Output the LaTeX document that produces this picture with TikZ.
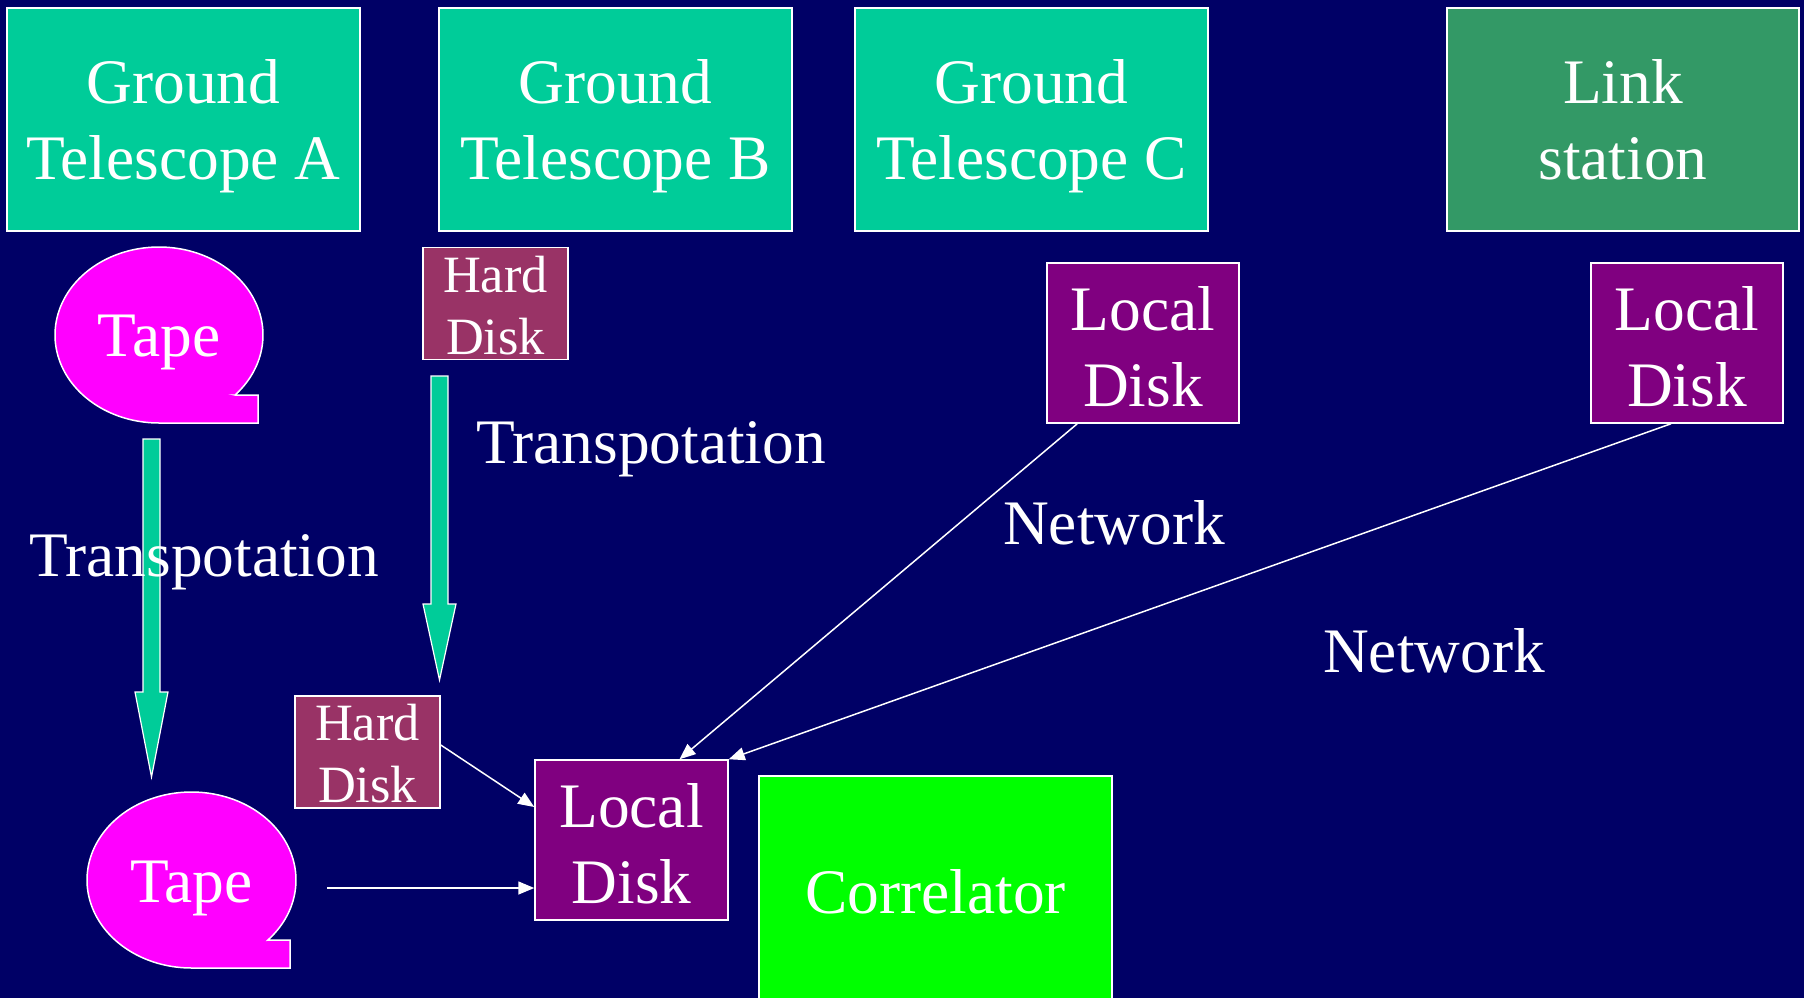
\documentclass[tikz,border=0pt]{standalone}
\usepackage{fontspec}
\setmainfont{Liberation Serif}
\usetikzlibrary{arrows.meta,calc}
\definecolor{bgnavy}{HTML}{000066}
\definecolor{telgreen}{HTML}{00CC99}
\definecolor{linkgreen}{HTML}{339966}
\definecolor{tapemag}{HTML}{FF00FF}
\definecolor{hdred}{HTML}{993366}
\definecolor{ldpurple}{HTML}{800080}
\definecolor{corrgreen}{HTML}{00FF00}
\begin{document}
\begin{tikzpicture}[x=1pt,y=-1pt,
  bigfont/.style={font=\fontsize{63.4pt}{76pt}\selectfont},
  smallfont/.style={font=\fontsize{52.4pt}{62pt}\selectfont},
  box/.style={draw=white, line width=1.5pt, inner sep=0pt, align=center, text=white, bigfont},
  telbox/.style={box, fill=telgreen, minimum width=353pt, minimum height=223pt, text depth=-4pt},
  hdbox/.style={box, fill=hdred, smallfont, minimum width=145pt, minimum height=112pt},
  ldbox/.style={box, fill=ldpurple, minimum width=192pt, minimum height=160pt},
  tapeshape/.style={fill=tapemag, draw=white, line width=1.5pt},
  blockarrow/.style={fill=telgreen, draw=white, line width=1.2pt, line join=miter},
  conn/.style={draw=white, line width=1.5pt, -{Triangle[length=16pt,width=13pt]}},
  lbl/.style={text=white, bigfont, inner sep=0pt}
]
\useasboundingbox (0,0) rectangle (1804,998);
\clip (0,0) rectangle (1804,998);
\fill[bgnavy] (0,0) rectangle (1804,998);

% top row
\node[telbox] (ta) at (183.5,119.5) {Ground\\Telescope A};
\node[telbox] (tb) at (615.5,119.5) {Ground\\Telescope B};
\node[telbox] (tc) at (1031.5,119.5) {Ground\\Telescope C};
\node[telbox, fill=linkgreen, minimum width=352pt, text depth=0pt] (ls) at (1623,119.5) {Link\\station};

% tapes
\filldraw[tapeshape] (235,395) -- (258,395) -- (258,423) -- (159,423)
  -- plot[domain=90:403,samples=150] ({159+104*cos(\x)},{335+88*sin(\x)}) -- cycle;
\node[lbl] (tape1) at (159,342) {Tape};
\filldraw[tapeshape] (268,940) -- (290,940) -- (290,968) -- (191.5,968)
  -- plot[domain=90:403,samples=150] ({191.5+104.5*cos(\x)},{880+88*sin(\x)}) -- cycle;
\node[lbl] (tape2) at (191.5,888) {Tape};

% disks
\node[hdbox] (hd1) at (495.5,303.5) {\rule{0pt}{40pt}Hard\\Disk};
\node[hdbox] (hd2) at (367.5,752) {\rule{0pt}{40pt}Hard\\Disk};
\node[ldbox] (ldc) at (1143,343) {\rule{0pt}{51pt}Local\\Disk};
\node[ldbox] (ldl) at (1687,343) {\rule{0pt}{51pt}Local\\Disk};
\node[ldbox, minimum width=193pt] (ld) at (631.5,840) {\rule{0pt}{51pt}Local\\Disk};
\node[box, fill=corrgreen, minimum width=353pt, minimum height=232pt] (corr) at (935.5,892) {Correlator};

% block arrows (transportation)
\filldraw[blockarrow] (143,439) -- (160,439) -- (160,692) -- (168,692) -- (151.5,777)
  -- (135,692) -- (143,692) -- cycle;
\filldraw[blockarrow] (431,376) -- (448,376) -- (448,604) -- (456,604) -- (439.5,680)
  -- (423,604) -- (431,604) -- cycle;

% labels
\node[lbl] (trA) at (204,562) {Transpotation};
\node[lbl] (trB) at (651,449) {Transpotation};
\node[lbl] (net1) at (1114,523) {Network};
\node[lbl] (net2) at (1434,651) {Network};

% connectors
\coordinate (tapeout) at (327,888);
\draw[conn] ($(hd2.east)+(0,-7)$) -- ($(ld.west)+(0,-33)$);
\draw[conn] (tapeout) -- ($(ld.west)+(0,48)$);
\draw[conn] ($(ldc.south west)+(31,0)$) -- ($(ld.north)+(48,0)$);
\draw[conn] ($(ldl.south)+(-16,0)$) -- (ld.north east);
\end{tikzpicture}
\end{document}
